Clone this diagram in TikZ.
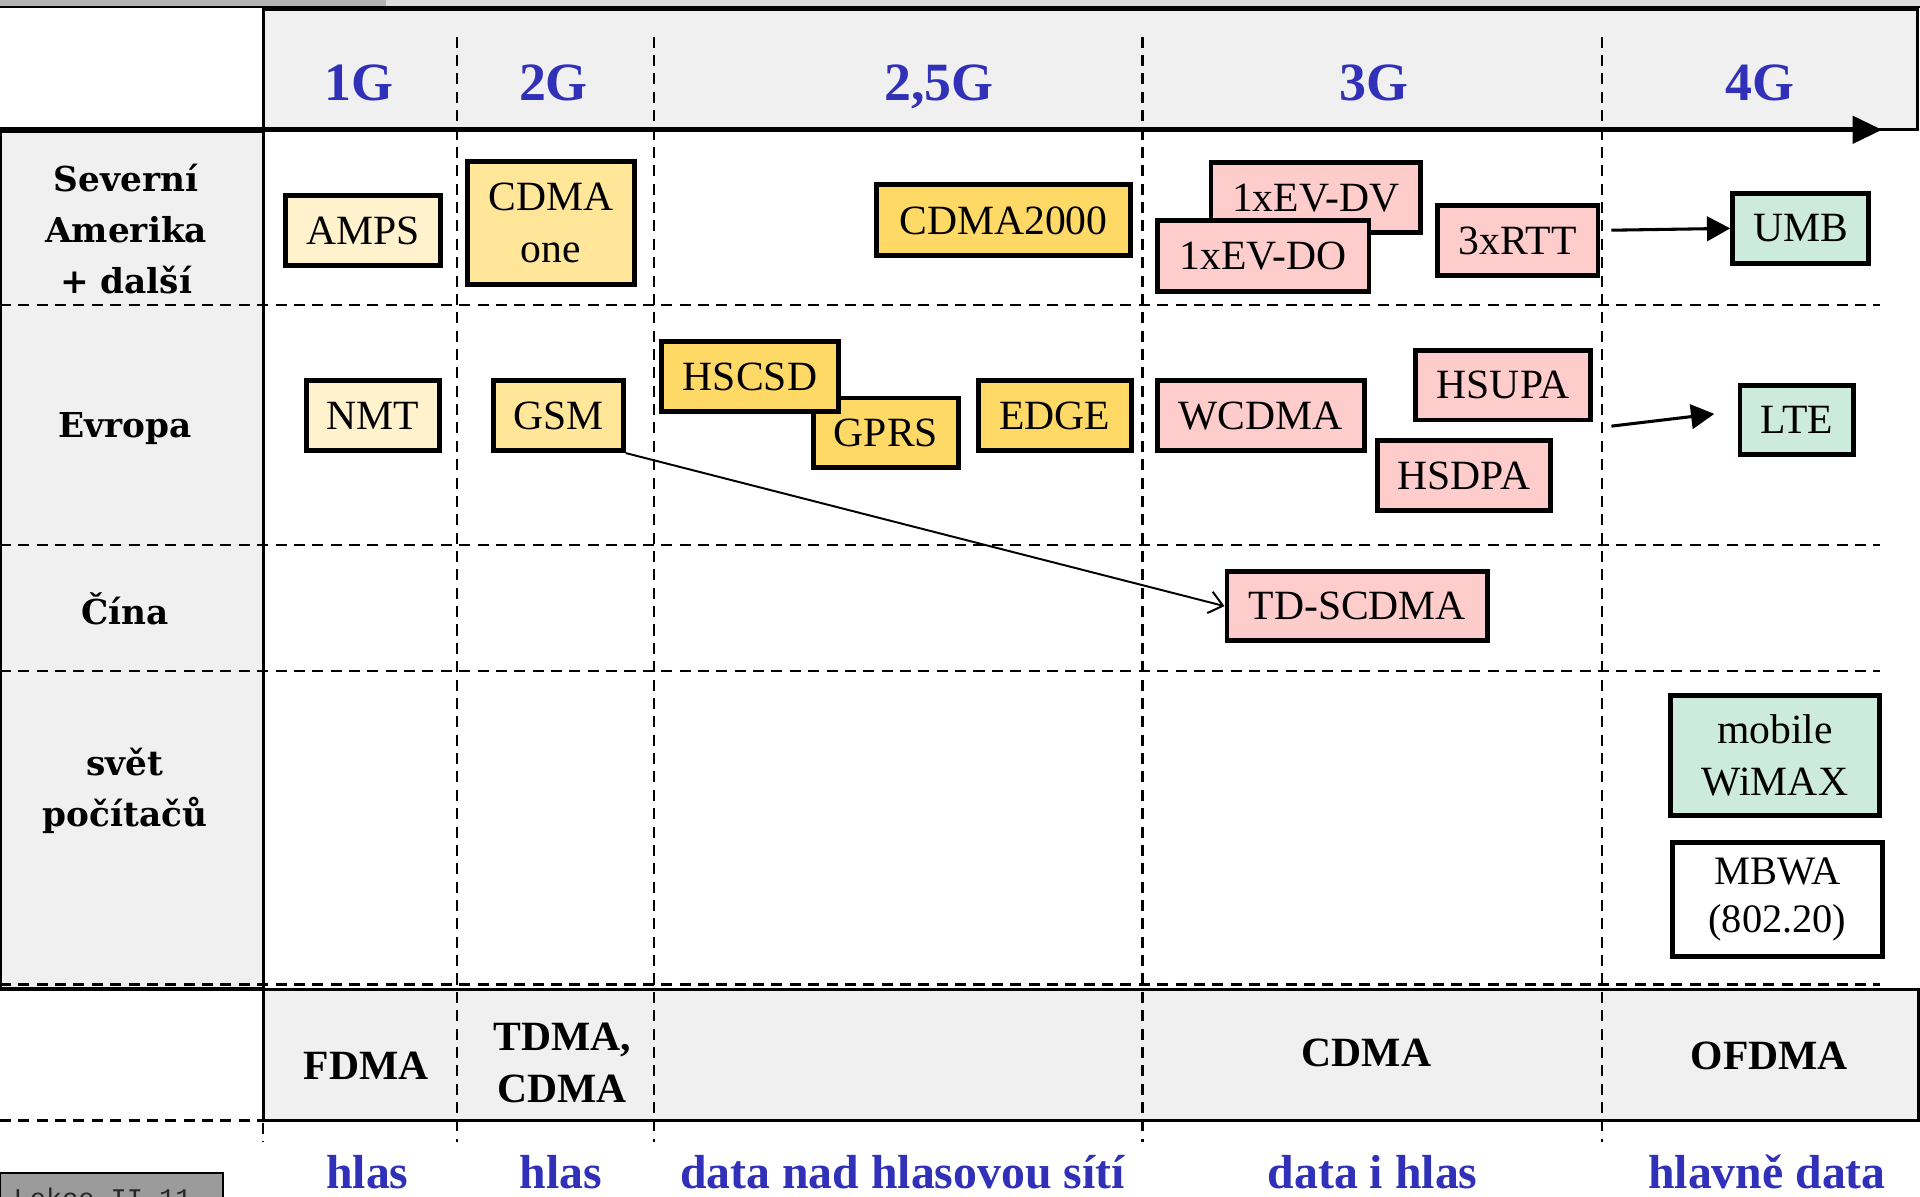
\documentclass[tikz,border=0pt]{standalone}
\usepackage{fontspec}
\setmainfont{Liberation Serif}
\newfontfamily\rowfont{DejaVu Serif}
\newfontfamily\labmono{Liberation Mono}
\usetikzlibrary{arrows.meta}
\definecolor{panel}{HTML}{F0F0F0}
\definecolor{bardark}{HTML}{B3B3B3}
\definecolor{barlight}{HTML}{DDDDDD}
\definecolor{boxgray}{HTML}{9B9B9B}
\definecolor{genblue}{RGB}{48,48,184}
\definecolor{cream}{HTML}{FFF2CC}
\definecolor{yellowmid}{HTML}{FFE699}
\definecolor{yellowdark}{HTML}{FFD966}
\definecolor{pinkbox}{HTML}{FFCCCC}
\definecolor{mint}{HTML}{CCEBDC}
\begin{document}
\begin{tikzpicture}[x=1pt,y=-1pt,
  techbox/.style={draw=black, line width=4pt, rectangle, inner sep=0pt, align=center,
    font=\fontsize{34}{42}\selectfont},
  hdash/.style={dash pattern=on 9pt off 6pt, line width=2pt},
  vdash/.style={dash pattern=on 9pt off 6pt, line width=1.8pt},
  genlbl/.style={text=genblue, font=\fontsize{44}{50}\selectfont\bfseries, anchor=base},
  uselbl/.style={text=genblue, font=\fontsize{39}{45}\selectfont\bfseries, anchor=base, inner sep=0pt},
  acclbl/.style={font=\fontsize{34}{42}\selectfont\bfseries, align=center},
  rowlbl/.style={font=\rowfont\fontsize{28}{41.5}\selectfont\bfseries, align=center},
  conn/.style={line width=2.5pt}
]
\useasboundingbox (0,0) rectangle (1568,977);
\clip (0,0) rectangle (1568,977);
\fill[white] (0,0) rectangle (1568,977);
% top bar
\fill[bardark] (0,0) rectangle (315,5);
\fill[barlight] (315,0) rectangle (1568,5);
\draw[line width=2pt] (0,5.5) -- (1568,5.5);
% panels
\filldraw[fill=panel, draw=black, line width=2.5pt] (215,8) rectangle (1566,106);
\filldraw[fill=panel, draw=black, line width=2.5pt] (0,107) rectangle (215,807);
\filldraw[fill=panel, draw=black, line width=2.5pt] (215,808) rectangle (1567,915);
% grid
\foreach \yy in {249,445,548,804} { \draw[hdash] (0,\yy) -- (1535,\yy); }
\draw[line width=2.5pt] (0,808) -- (1567,808);
\draw[hdash] (0,915) -- (215,915);
\foreach \xx in {373,534,933,1308} { \draw[vdash] (\xx,30) -- (\xx,933); }
\draw[vdash] (215,917) -- (215,933);
% time arrow
\draw[line width=4pt, -{Triangle[length=24pt,width=22pt]}] (0,106) -- (1537,106);
% generation headers
\node[genlbl] (g1) at (293,82) {1G};
\node[genlbl] (g2) at (452,82) {2G};
\node[genlbl] (g25) at (767,82) {2,5G};
\node[genlbl] (g3) at (1122,82) {3G};
\node[genlbl] (g4) at (1437,82) {4G};
% row labels
\node[rowlbl] (rna) at (103,187) {Severní\\Amerika\\+ další};
\node[rowlbl] (reu) at (102,350) {Evropa};
\node[rowlbl] (rcn) at (102,497) {Čína};
\node[rowlbl] (rpc) at (102,646) {svět\\počítačů};
% access methods
\node[acclbl] (fdma) at (299,870) {FDMA};
\node[acclbl] (tdma) at (459,868) {TDMA,\\CDMA};
\node[acclbl] (cdma) at (1116,860) {CDMA};
\node[acclbl] (ofdma) at (1445,862) {OFDMA};
% usage labels
\node[uselbl] (u1) at (300,971) {hlas};
\node[uselbl] (u2) at (458,971) {hlas};
\node[uselbl] (u3) at (737,971) {data nad hlasovou sítí};
\node[uselbl] (u4) at (1121,971) {data i hlas};
\node[uselbl] (u5) at (1443,971) {hlavně data};
% footer tag
\filldraw[fill=boxgray, draw=black, line width=2pt] (0,958) rectangle (182,995);
\node[anchor=base west, inner sep=0pt, text=black!85, font=\labmono\fontsize{22}{24}\selectfont] (tag) at (11,986) {Lekce II-11};
% technology boxes
\node[techbox, fill=cream, minimum width=127pt, minimum height=57pt] (amps) at (296.5,188.5) {AMPS};
\node[techbox, fill=yellowmid, minimum width=136pt, minimum height=100pt] (cdmaone) at (450,182) {CDMA\\one};
\node[techbox, fill=yellowdark, minimum width=207pt, minimum height=58pt] (cdma2000) at (819.5,180) {CDMA2000};
\node[techbox, fill=pinkbox, minimum width=171pt, minimum height=57pt] (evdv) at (1074.5,161.5) {1xEV-DV};
\node[techbox, fill=pinkbox, minimum width=173pt, minimum height=58pt] (evdo) at (1031.5,209) {1xEV-DO};
\node[techbox, fill=pinkbox, minimum width=131pt, minimum height=57pt] (rtt) at (1239.5,196.5) {3xRTT};
\node[techbox, fill=mint, minimum width=111pt, minimum height=57pt] (umb) at (1470.5,186.5) {UMB};
\node[techbox, fill=cream, minimum width=109pt, minimum height=57pt] (nmt) at (304.5,339.5) {NMT};
\node[techbox, fill=yellowmid, minimum width=106pt, minimum height=57pt] (gsm) at (456,339.5) {GSM};
\node[techbox, fill=yellowdark, minimum width=119pt, minimum height=57pt] (gprs) at (723.5,353.5) {GPRS};
\node[techbox, fill=yellowdark, minimum width=145pt, minimum height=57pt] (hscsd) at (612.5,307.5) {HSCSD};
\node[techbox, fill=yellowdark, minimum width=125pt, minimum height=57pt] (edge) at (861.5,339.5) {EDGE};
\node[techbox, fill=pinkbox, minimum width=169pt, minimum height=57pt] (wcdma) at (1029.5,339.5) {WCDMA};
\node[techbox, fill=pinkbox, minimum width=143pt, minimum height=57pt] (hsupa) at (1227.5,314.5) {HSUPA};
\node[techbox, fill=pinkbox, minimum width=141pt, minimum height=57pt] (hsdpa) at (1195.5,388.5) {HSDPA};
\node[techbox, fill=mint, minimum width=93pt, minimum height=56pt] (lte) at (1467.5,343) {LTE};
\node[techbox, fill=pinkbox, minimum width=213pt, minimum height=56pt] (tdscdma) at (1108.5,495) {TD-SCDMA};
\node[techbox, fill=mint, minimum width=171pt, minimum height=98pt] (wimax) at (1449.5,617) {mobile\\WiMAX};
\node[techbox, fill=white, minimum width=171pt, minimum height=93pt, font=\fontsize{33}{39}\selectfont] (mbwa) at (1451.5,734.5) {MBWA\\(802.20)};
% connectors
\coordinate (umbfrom) at (1316,188);
\draw[conn, -{Triangle[length=19pt,width=20pt]}] (umbfrom) -- (umb.west);
\coordinate (ltefrom) at (1316,348);
\coordinate (lteto) at (1400,338);
\draw[conn, -{Triangle[length=19pt,width=20pt]}] (ltefrom) -- (lteto);
\draw[line width=1.6pt, -{Straight Barb[length=11pt,width=18pt]}] (gsm.south east) -- (tdscdma.west);
\end{tikzpicture}
\end{document}
